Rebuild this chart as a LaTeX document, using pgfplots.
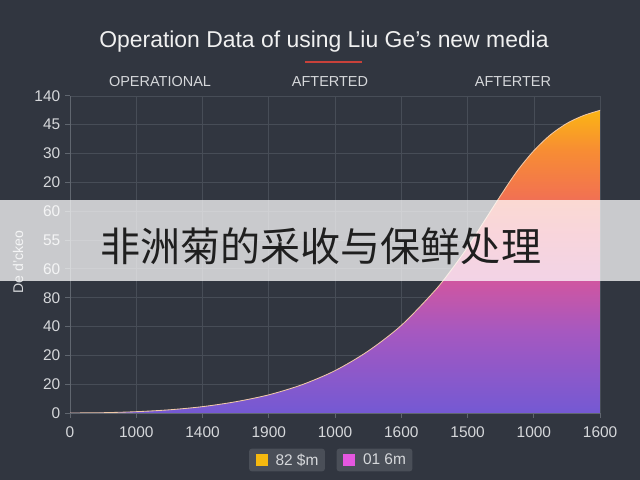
\documentclass[border=0pt]{standalone}
\usepackage{pgfplots}
\pgfplotsset{compat=1.18}
\usepackage{fontspec}
\setmainfont{Liberation Sans}
\newfontfamily\cjk{Noto Sans CJK SC}

\definecolor{bg}{HTML}{313640}
\definecolor{gridc}{HTML}{474D57}
\definecolor{axisc}{HTML}{60666F}
\definecolor{tickc}{HTML}{D6D8DB}
\definecolor{redline}{HTML}{C8413A}
\definecolor{pillc}{HTML}{4A4F58}
\definecolor{legy}{HTML}{F5B90F}
\definecolor{legm}{HTML}{E657E0}
\definecolor{edgec}{HTML}{F0C8A8}
\definecolor{c0}{RGB}{116,89,211}
\definecolor{c1}{RGB}{166,88,192}
\definecolor{c2}{RGB}{206,86,162}
\definecolor{c3}{RGB}{232,96,118}
\definecolor{c4}{RGB}{242,115,80}
\definecolor{c5}{RGB}{247,141,51}
\definecolor{c6}{RGB}{251,181,20}

% vertical gradient of the area, 25bp..75bp covers the area's box
\pgfdeclareverticalshading{areagrad}{100bp}{color(0bp)=(c0); color(25bp)=(c0);
  color(38.5bp)=(c1); color(46.5bp)=(c2); color(55bp)=(c3); color(61bp)=(c4);
  color(68.5bp)=(c5); color(75bp)=(c6); color(100bp)=(c6)}

\pgfplotstableread{
x    y
0    0
0.5  0.01
1    0.045
1.5  0.11
2    0.22
2.5  0.39
3    0.63
3.5  0.98
4    1.47
4.5  2.15
5    3.04
5.5  4.23
5.75 4.95
6    5.75
6.25 6.65
6.5  7.55
6.75 8.4
7    9.1
7.25 9.65
7.5  10.05
7.75 10.32
8    10.5
}\curvedata

\begin{document}
\begin{tikzpicture}[x=0.025cm,y=0.025cm]
\fill[bg] (0,0) rectangle (640,480);

\node[text=white!94!black, font=\fontsize{16.3}{19}\selectfont] at (324,438)
  {Operation Data of using Liu Ge’s new media};
\draw[redline, line width=1.3pt] (305,418) -- (362,418);

\begin{scope}[text=tickc, font=\fontsize{10.3}{12}\selectfont]
\node at (160,398) {OPERATIONAL};
\node at (330,398) {AFTERTED};
\node at (513,398) {AFTERTER};
\end{scope}

\begin{axis}[
    at={(1.75cm,1.675cm)}, anchor=south west,
    scale only axis, width=13.25cm, height=7.925cm,
    xmin=0, xmax=8, ymin=0, ymax=11,
    xtick={0,...,8},
    xticklabels={0,1000,1400,1900,1000,1600,1500,1000,1600},
    ytick={0,...,11},
    yticklabels={0,20,20,40,80,60,55,60,20,30,45,140},
    /pgf/number format/assume math mode=true,
    ticklabel style={text=tickc, font=\fontsize{11}{13}\selectfont},
    xticklabel style={yshift=-0.1cm},
    grid=major,
    major grid style={gridc, line width=0.5pt},
    axis lines*=left,
    axis line style={axisc, line width=0.6pt},
    tick style={axisc, line width=0.6pt},
    tick align=outside,
    major tick length=0.12cm,
]
% area under the curve
\addplot[draw=none, shade, shading=areagrad, smooth] table[x=x, y=y] {\curvedata} \closedcycle;
% thin edge along the top of the area
\addplot[edgec, line width=0.6pt, smooth] table[x=x, y=y] {\curvedata};
\end{axis}

\node[rotate=90, text=tickc, font=\fontsize{10}{12}\selectfont] at (18,218) {De d'ckeo};

% legend
\node[fill=pillc, rounded corners=2pt, minimum height=0.57cm, inner xsep=0.16cm,
      text=tickc, font=\fontsize{11}{13}\selectfont] at (287,20)
  {\textcolor{legy}{\rule[-0.03cm]{0.3cm}{0.3cm}}\hspace{0.2cm}82 \$m};
\node[fill=pillc, rounded corners=2pt, minimum height=0.57cm, inner xsep=0.16cm,
      text=tickc, font=\fontsize{11}{13}\selectfont] at (374.5,20)
  {\textcolor{legm}{\rule[-0.03cm]{0.3cm}{0.3cm}}\hspace{0.2cm}01 6m};

% light banner with the caption
\fill[white, opacity=0.74] (0,199) rectangle (640,280);
\node[anchor=west, inner sep=0pt, text=black!88, font=\cjk\fontsize{28.5}{30}\selectfont]
  at (100,234) {非洲菊的采收与保鲜处理};
\end{tikzpicture}
\end{document}
